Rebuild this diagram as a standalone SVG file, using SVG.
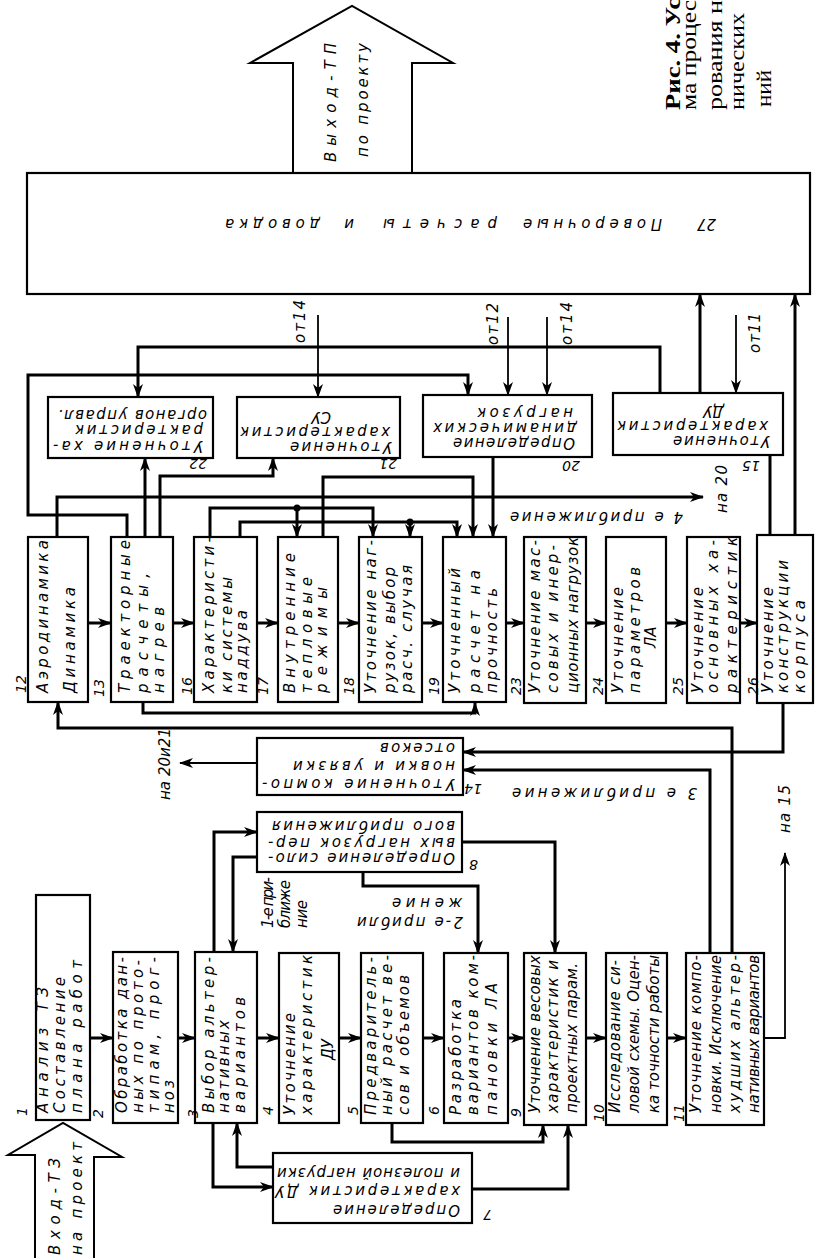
<svg xmlns="http://www.w3.org/2000/svg" width="819" height="1258" viewBox="0 0 819 1258">
<style>
.bx{fill:#fff;stroke:#000;stroke-width:2.2}
.ln{fill:none;stroke:#000;stroke-width:3}
.tn{fill:none;stroke:#000;stroke-width:1.8}
.blk{fill:#fff;stroke:#000;stroke-width:2}
text{font-family:"DejaVu Sans","Liberation Sans",sans-serif;font-style:italic;font-size:15px;fill:#000}
.n{font-size:14px}
.cap{font-family:"Liberation Serif",serif;font-style:normal;font-size:20px}
.capb{font-weight:bold}
</style>
<defs>
<marker id="a" markerUnits="userSpaceOnUse" markerWidth="14" markerHeight="10" refX="13" refY="5" orient="auto"><path d="M0,0 L14,5 L0,10 L4,5 Z" fill="#000"/></marker>
</defs>

<g id="caption">
<text class="cap capb" transform="translate(680,110) rotate(-90)" textLength="112" lengthAdjust="spacingAndGlyphs">Рис. 4. Ус</text>
<text class="cap" transform="translate(696,110) rotate(-90)" textLength="110" lengthAdjust="spacingAndGlyphs">ма процес</text>
<text class="cap" transform="translate(722,110) rotate(-90)" textLength="110" lengthAdjust="spacingAndGlyphs">рования н</text>
<text class="cap" transform="translate(744,110) rotate(-90)" textLength="97" lengthAdjust="spacingAndGlyphs">нических</text>
<text class="cap" transform="translate(771,107) rotate(-90)" textLength="37" lengthAdjust="spacingAndGlyphs">ний</text>
</g>

<g id="output">
<polygon class="blk" points="293,174 293,63 250,63 352,6 453,63 412,63 412,174"/>
<text transform="translate(336,162) rotate(-90)" textLength="119" lengthAdjust="spacing">Выход-ТП</text>
<text transform="translate(368,157) rotate(-90)" textLength="114" lengthAdjust="spacing">по проекту</text>
</g>

<g id="input">
<polygon class="blk" points="35,1260 35,1155 8,1155 63,1123 122,1157 94,1157 94,1260"/>
<text transform="translate(60,1255) rotate(-90)" textLength="97" lengthAdjust="spacing">Вход-ТЗ</text>
<text transform="translate(82,1255) rotate(-90)" textLength="113" lengthAdjust="spacing">на проект</text>
</g>

<g id="connectors">
<path class="ln" marker-end="url(#a)" d="M90,1038 H113"/>
<path class="ln" marker-end="url(#a)" d="M178,1038 H195"/>
<path class="ln" marker-end="url(#a)" d="M257,1038 H279"/>
<path class="ln" marker-end="url(#a)" d="M339,1038 H361"/>
<path class="ln" marker-end="url(#a)" d="M423,1038 H444"/>
<path class="ln" marker-end="url(#a)" d="M508,1038 H524"/>
<path class="ln" marker-end="url(#a)" d="M586,1038 H606"/>
<path class="ln" marker-end="url(#a)" d="M667,1038 H686"/>
<path class="ln" marker-end="url(#a)" d="M88,623 H111"/>
<path class="ln" marker-end="url(#a)" d="M173,623 H194"/>
<path class="ln" marker-end="url(#a)" d="M257,623 H278"/>
<path class="ln" marker-end="url(#a)" d="M338,623 H359"/>
<path class="ln" marker-end="url(#a)" d="M422,623 H443"/>
<path class="ln" marker-end="url(#a)" d="M506,623 H524"/>
<path class="ln" marker-end="url(#a)" d="M586,623 H606"/>
<path class="ln" marker-end="url(#a)" d="M666,623 H687"/>
<path class="ln" marker-end="url(#a)" d="M740,623 H757"/>
<path class="ln" marker-end="url(#a)" d="M213,1123 V1187 H273"/>
<path class="ln" marker-end="url(#a)" d="M273,1167 H237 V1123"/>
<path class="ln" marker-end="url(#a)" d="M472,1189 H568 V1125"/>
<path class="ln" marker-end="url(#a)" d="M392,1123 V1142 H543 V1125"/>
<path class="ln" marker-end="url(#a)" d="M214,952 V832 H257"/>
<path class="ln" marker-end="url(#a)" d="M257,857 H233 V952"/>
<path class="ln" marker-end="url(#a)" d="M363,872 V886 H478 V953"/>
<path class="ln" marker-end="url(#a)" d="M462,842 H555 V953"/>
<path class="tn" marker-end="url(#a)" d="M764,1038 H785 V853"/>
<path class="ln" marker-end="url(#a)" d="M710,953 V770 H463"/>
<path class="ln" marker-end="url(#a)" d="M732,953 V728 H58 V702"/>
<path class="ln" marker-end="url(#a)" d="M783,703 V752 H463"/>
<path class="ln" marker-end="url(#a)" d="M795,535 V294"/>
<path class="tn" marker-end="url(#a)" d="M257,763 H180"/>
<path class="ln" marker-end="url(#a)" d="M143,702 V713 H475 V703"/>
<path class="ln" marker-end="url(#a)" d="M145,537 V458"/>
<path class="ln" marker-end="url(#a)" d="M160,537 V476 H273 V458"/>
<path class="ln" marker-end="url(#a)" d="M127,537 V515 H28 V375 H468 V395"/>
<path class="ln" marker-end="url(#a)" d="M57,537 V497 H703"/>
<path class="ln" marker-end="url(#a)" d="M210,537 V508 H373 V537"/>
<path class="ln" marker-end="url(#a)" d="M297,508 V537"/>
<path class="ln" marker-end="url(#a)" d="M240,537 V522 H457 V537"/>
<path class="ln" marker-end="url(#a)" d="M410,522 V537"/>
<circle cx="297" cy="508" r="3.5"/>
<circle cx="410" cy="522" r="3.5"/>
<path class="ln" marker-end="url(#a)" d="M323,537 V477 H473 V537"/>
<path class="ln" marker-end="url(#a)" d="M493,457 V537"/>
<path class="tn" marker-end="url(#a)" d="M508,317 V395"/>
<path class="tn" marker-end="url(#a)" d="M547,317 V395"/>
<path class="tn" marker-end="url(#a)" d="M318,315 V397"/>
<path class="ln" marker-end="url(#a)" d="M660,393 V347 H138 V397"/>
<path class="ln" marker-end="url(#a)" d="M700,393 V294"/>
<path class="tn" marker-end="url(#a)" d="M736,315 V393"/>
<path class="ln" d="M770,455 V535"/>
</g>

<g id="labels">
<text transform="translate(273,928) rotate(-90)" textLength="51" lengthAdjust="spacing">1-е при-</text>
<text transform="translate(290,928) rotate(-90)" textLength="48" lengthAdjust="spacing">ближе</text>
<text transform="translate(307,928) rotate(-90)" textLength="28" lengthAdjust="spacing">ние</text>
<text transform="translate(463,917) rotate(180)" textLength="106" lengthAdjust="spacing">2-е прибли</text>
<text transform="translate(462,898) rotate(180)" textLength="70" lengthAdjust="spacing">жение</text>
<text transform="translate(697,788) rotate(180)" textLength="185" lengthAdjust="spacing">3 е приближение</text>
<text transform="translate(683,512) rotate(180)" textLength="173" lengthAdjust="spacing">4 е приближение</text>
<text transform="translate(727,513) rotate(-90)" textLength="48" lengthAdjust="spacing">на 20</text>
<text transform="translate(790,833) rotate(-90)" textLength="48" lengthAdjust="spacing">на 15</text>
<text transform="translate(170,800) rotate(-90)" textLength="72" lengthAdjust="spacing">на 20и21</text>
<text transform="translate(305,343) rotate(-90)" textLength="43" lengthAdjust="spacing">от14</text>
<text transform="translate(498,345) rotate(-90)" textLength="42" lengthAdjust="spacing">от12</text>
<text transform="translate(572,345) rotate(-90)" textLength="43" lengthAdjust="spacing">от14</text>
<text transform="translate(760,353) rotate(-90)" textLength="40" lengthAdjust="spacing">от11</text>
</g>

<g id="n27">
<rect class="bx" x="27" y="173" width="783" height="121"/>
<text transform="translate(716,219) rotate(180)">27</text>
<text transform="translate(662,219) rotate(180)" textLength="139" lengthAdjust="spacing">Поверочные</text>
<text transform="translate(497,219) rotate(180)" textLength="114" lengthAdjust="spacing">расчеты</text>
<text transform="translate(354,219) rotate(180)">и</text>
<text transform="translate(320,219) rotate(180)" textLength="95" lengthAdjust="spacing">доводка</text>
</g>

<g id="n1">
<rect class="bx" x="36" y="895" width="54" height="225"/>
<text transform="translate(48,1113) rotate(-90)" textLength="126" lengthAdjust="spacing">Анализ ТЗ</text>
<text transform="translate(65,1113) rotate(-90)" textLength="136" lengthAdjust="spacing">Составление</text>
<text transform="translate(82,1113) rotate(-90)" textLength="153" lengthAdjust="spacing">плана работ</text>
<text class="n" transform="translate(27,1116) rotate(-90)">1</text>
</g>
<g id="n2">
<rect class="bx" x="113" y="952" width="65" height="171"/>
<text transform="translate(127,1113) rotate(-90)" textLength="156" lengthAdjust="spacing">Обработка дан-</text>
<text transform="translate(143,1113) rotate(-90)" textLength="153" lengthAdjust="spacing">ных по прото-</text>
<text transform="translate(159,1113) rotate(-90)" textLength="156" lengthAdjust="spacing">типам, прог-</text>
<text transform="translate(174,1113) rotate(-90)" textLength="33" lengthAdjust="spacing">ноз</text>
<text class="n" transform="translate(103,1118) rotate(-90)">2</text>
</g>
<g id="n3">
<rect class="bx" x="195" y="952" width="62" height="171"/>
<text transform="translate(214,1113) rotate(-90)" textLength="156" lengthAdjust="spacing">Выбор альтер-</text>
<text transform="translate(229,1113) rotate(-90)" textLength="93" lengthAdjust="spacing">нативных</text>
<text transform="translate(245,1113) rotate(-90)" textLength="116" lengthAdjust="spacing">вариантов</text>
<text class="n" transform="translate(198,1118) rotate(-90)">3</text>
</g>
<g id="n4">
<rect class="bx" x="279" y="953" width="60" height="170"/>
<text transform="translate(295,1115) rotate(-90)" textLength="102" lengthAdjust="spacing">Уточнение</text>
<text transform="translate(312,1115) rotate(-90)" textLength="160" lengthAdjust="spacing">характеристик</text>
<text transform="translate(333,1060) rotate(-90)">ДУ</text>
<text class="n" transform="translate(273,1115) rotate(-90)">4</text>
</g>
<g id="n5">
<rect class="bx" x="361" y="953" width="62" height="170"/>
<text transform="translate(376,1115) rotate(-90)" textLength="158" lengthAdjust="spacing">Предваритель-</text>
<text transform="translate(392,1115) rotate(-90)" textLength="160" lengthAdjust="spacing">ный расчет ве-</text>
<text transform="translate(409,1115) rotate(-90)" textLength="140" lengthAdjust="spacing">сов и объемов</text>
<text class="n" transform="translate(358,1115) rotate(-90)">5</text>
</g>
<g id="n6">
<rect class="bx" x="444" y="953" width="64" height="170"/>
<text transform="translate(461,1115) rotate(-90)" textLength="116" lengthAdjust="spacing">Разработка</text>
<text transform="translate(478,1115) rotate(-90)" textLength="160" lengthAdjust="spacing">вариантов ком-</text>
<text transform="translate(497,1115) rotate(-90)" textLength="132" lengthAdjust="spacing">пановки  ЛА</text>
<text class="n" transform="translate(439,1115) rotate(-90)">6</text>
</g>
<g id="n9">
<rect class="bx" x="524" y="953" width="62" height="172"/>
<text transform="translate(540,1113) rotate(-90)" textLength="158" lengthAdjust="spacing">Уточнение весовых</text>
<text transform="translate(558,1113) rotate(-90)" textLength="153" lengthAdjust="spacing">характеристик и</text>
<text transform="translate(577,1113) rotate(-90)" textLength="150" lengthAdjust="spacing">проектных парам.</text>
<text class="n" transform="translate(521,1117) rotate(-90)">9</text>
</g>
<g id="n10">
<rect class="bx" x="606" y="953" width="61" height="172"/>
<text transform="translate(620,1113) rotate(-90)" textLength="153" lengthAdjust="spacing">Исследование си-</text>
<text transform="translate(639,1113) rotate(-90)" textLength="158" lengthAdjust="spacing">ловой схемы. Оцен-</text>
<text transform="translate(659,1113) rotate(-90)" textLength="158" lengthAdjust="spacing">ка точности работы</text>
<text class="n" transform="translate(604,1122) rotate(-90)">10</text>
</g>
<g id="n11">
<rect class="bx" x="686" y="953" width="78" height="172"/>
<text transform="translate(701,1113) rotate(-90)" textLength="158" lengthAdjust="spacing">Уточнение компо-</text>
<text transform="translate(721,1113) rotate(-90)" textLength="158" lengthAdjust="spacing">новки. Исключение</text>
<text transform="translate(740,1113) rotate(-90)" textLength="158" lengthAdjust="spacing">худших альтер-</text>
<text transform="translate(759,1113) rotate(-90)" textLength="158" lengthAdjust="spacing">нативных вариантов</text>
<text class="n" transform="translate(684,1122) rotate(-90)">11</text>
</g>

<g id="n7">
<rect class="bx" x="273" y="1153" width="199" height="70"/>
<text transform="translate(460,1205) rotate(180)" textLength="127" lengthAdjust="spacing">Определение</text>
<text transform="translate(460,1186) rotate(180)" textLength="185" lengthAdjust="spacing">характеристик ДУ</text>
<text transform="translate(460,1168) rotate(180)" textLength="183" lengthAdjust="spacing">и полезной нагрузки</text>
<text class="n" transform="translate(492,1210) rotate(180)">7</text>
</g>
<g id="n8">
<rect class="bx" x="257" y="812" width="205" height="60"/>
<text transform="translate(455,853) rotate(180)" textLength="187" lengthAdjust="spacing">Определение сило-</text>
<text transform="translate(455,838) rotate(180)" textLength="187" lengthAdjust="spacing">вых нагрузок пер-</text>
<text transform="translate(455,821) rotate(180)" textLength="183" lengthAdjust="spacing">вого приближения</text>
<text class="n" transform="translate(478,860) rotate(180)">8</text>
</g>
<g id="n14">
<rect class="bx" x="257" y="738" width="206" height="57"/>
<text transform="translate(455,779) rotate(180)" textLength="193" lengthAdjust="spacing">Уточнение компо-</text>
<text transform="translate(455,761) rotate(180)" textLength="162" lengthAdjust="spacing">новки и увязки</text>
<text transform="translate(455,743) rotate(180)" textLength="75" lengthAdjust="spacing">отсеков</text>
<text class="n" transform="translate(482,784) rotate(180)">14</text>
</g>

<g id="n12">
<rect class="bx" x="28" y="537" width="60" height="165"/>
<text transform="translate(48,693) rotate(-90)" textLength="153" lengthAdjust="spacing">Аэродинамика</text>
<text transform="translate(75,693) rotate(-90)" textLength="106" lengthAdjust="spacing">Динамика</text>
<text class="n" transform="translate(26,693) rotate(-90)">12</text>
</g>
<g id="n13">
<rect class="bx" x="111" y="537" width="62" height="165"/>
<text transform="translate(130,693) rotate(-90)" textLength="153" lengthAdjust="spacing">Траекторные</text>
<text transform="translate(148,693) rotate(-90)" textLength="120" lengthAdjust="spacing">расчеты,</text>
<text transform="translate(164,693) rotate(-90)" textLength="86" lengthAdjust="spacing">нагрев</text>
<text class="n" transform="translate(104,697) rotate(-90)">13</text>
</g>
<g id="n16">
<rect class="bx" x="194" y="537" width="63" height="165"/>
<text transform="translate(214,693) rotate(-90)" textLength="156" lengthAdjust="spacing">Характеристи-</text>
<text transform="translate(232,693) rotate(-90)" textLength="116" lengthAdjust="spacing">ки системы</text>
<text transform="translate(247,693) rotate(-90)" textLength="83" lengthAdjust="spacing">наддува</text>
<text class="n" transform="translate(192,695) rotate(-90)">16</text>
</g>
<g id="n17">
<rect class="bx" x="278" y="537" width="60" height="165"/>
<text transform="translate(295,693) rotate(-90)" textLength="140" lengthAdjust="spacing">Внутренние</text>
<text transform="translate(312,693) rotate(-90)" textLength="116" lengthAdjust="spacing">тепловые</text>
<text transform="translate(327,693) rotate(-90)" textLength="106" lengthAdjust="spacing">режимы</text>
<text class="n" transform="translate(268,695) rotate(-90)">17</text>
</g>
<g id="n18">
<rect class="bx" x="359" y="537" width="63" height="165"/>
<text transform="translate(376,693) rotate(-90)" textLength="153" lengthAdjust="spacing">Уточнение наг-</text>
<text transform="translate(395,693) rotate(-90)" textLength="126" lengthAdjust="spacing">рузок, выбор</text>
<text transform="translate(412,693) rotate(-90)" textLength="128" lengthAdjust="spacing">расч. случая</text>
<text class="n" transform="translate(354,695) rotate(-90)">18</text>
</g>
<g id="n19">
<rect class="bx" x="443" y="537" width="63" height="165"/>
<text transform="translate(460,693) rotate(-90)" textLength="125" lengthAdjust="spacing">Уточненный</text>
<text transform="translate(480,693) rotate(-90)" textLength="123" lengthAdjust="spacing">расчет  на</text>
<text transform="translate(497,693) rotate(-90)" textLength="105" lengthAdjust="spacing">прочность</text>
<text class="n" transform="translate(439,695) rotate(-90)">19</text>
</g>
<g id="n23">
<rect class="bx" x="524" y="537" width="62" height="166"/>
<text transform="translate(540,693) rotate(-90)" textLength="153" lengthAdjust="spacing">Уточнение мас-</text>
<text transform="translate(558,693) rotate(-90)" textLength="148" lengthAdjust="spacing">совых и инер-</text>
<text transform="translate(578,693) rotate(-90)" textLength="156" lengthAdjust="spacing">ционных нагрузок</text>
<text class="n" transform="translate(521,695) rotate(-90)">23</text>
</g>
<g id="n24">
<rect class="bx" x="606" y="537" width="60" height="166"/>
<text transform="translate(623,693) rotate(-90)" textLength="106" lengthAdjust="spacing">Уточнение</text>
<text transform="translate(640,693) rotate(-90)" textLength="126" lengthAdjust="spacing">параметров</text>
<text transform="translate(656,648) rotate(-90)">ЛА</text>
<text class="n" transform="translate(603,695) rotate(-90)">24</text>
</g>
<g id="n25">
<rect class="bx" x="687" y="537" width="53" height="166"/>
<text transform="translate(703,693) rotate(-90)" textLength="106" lengthAdjust="spacing">Уточнение</text>
<text transform="translate(718,693) rotate(-90)" textLength="153" lengthAdjust="spacing">основных ха-</text>
<text transform="translate(737,693) rotate(-90)" textLength="156" lengthAdjust="spacing">рактеристик</text>
<text class="n" transform="translate(683,695) rotate(-90)">25</text>
</g>
<g id="n26">
<rect class="bx" x="757" y="535" width="56" height="168"/>
<text transform="translate(773,693) rotate(-90)" textLength="106" lengthAdjust="spacing">Уточнение</text>
<text transform="translate(788,693) rotate(-90)" textLength="133" lengthAdjust="spacing">конструкции</text>
<text transform="translate(805,693) rotate(-90)" textLength="93" lengthAdjust="spacing">корпуса</text>
<text class="n" transform="translate(758,695) rotate(-90)">26</text>
</g>

<g id="n22">
<rect class="bx" x="48" y="397" width="165" height="61"/>
<text transform="translate(203,441) rotate(180)" textLength="150" lengthAdjust="spacing">Уточнение ха-</text>
<text transform="translate(203,425) rotate(180)" textLength="128" lengthAdjust="spacing">рактеристик</text>
<text transform="translate(207,410) rotate(180)" textLength="149" lengthAdjust="spacing">органов управл.</text>
<text class="n" transform="translate(207,459) rotate(180)">22</text>
</g>
<g id="n21">
<rect class="bx" x="237" y="397" width="163" height="61"/>
<text transform="translate(392,442) rotate(180)" textLength="102" lengthAdjust="spacing">Уточнение</text>
<text transform="translate(390,427) rotate(180)" textLength="150" lengthAdjust="spacing">характеристик</text>
<text transform="translate(331,412) rotate(180)">СУ</text>
<text class="n" transform="translate(397,459) rotate(180)">21</text>
</g>
<g id="n20">
<rect class="bx" x="423" y="395" width="169" height="62"/>
<text transform="translate(575,438) rotate(180)" textLength="122" lengthAdjust="spacing">Определение</text>
<text transform="translate(577,423) rotate(180)" textLength="144" lengthAdjust="spacing">динамических</text>
<text transform="translate(573,408) rotate(180)" textLength="96" lengthAdjust="spacing">нагрузок</text>
<text class="n" transform="translate(580,461) rotate(180)">20</text>
</g>
<g id="n15">
<rect class="bx" x="613" y="393" width="170" height="62"/>
<text transform="translate(770,436) rotate(180)" textLength="97" lengthAdjust="spacing">Уточнение</text>
<text transform="translate(768,421) rotate(180)" textLength="151" lengthAdjust="spacing">характеристик</text>
<text transform="translate(724,406) rotate(180)">ДУ</text>
<text class="n" transform="translate(760,461) rotate(180)">15</text>
</g>
</svg>
